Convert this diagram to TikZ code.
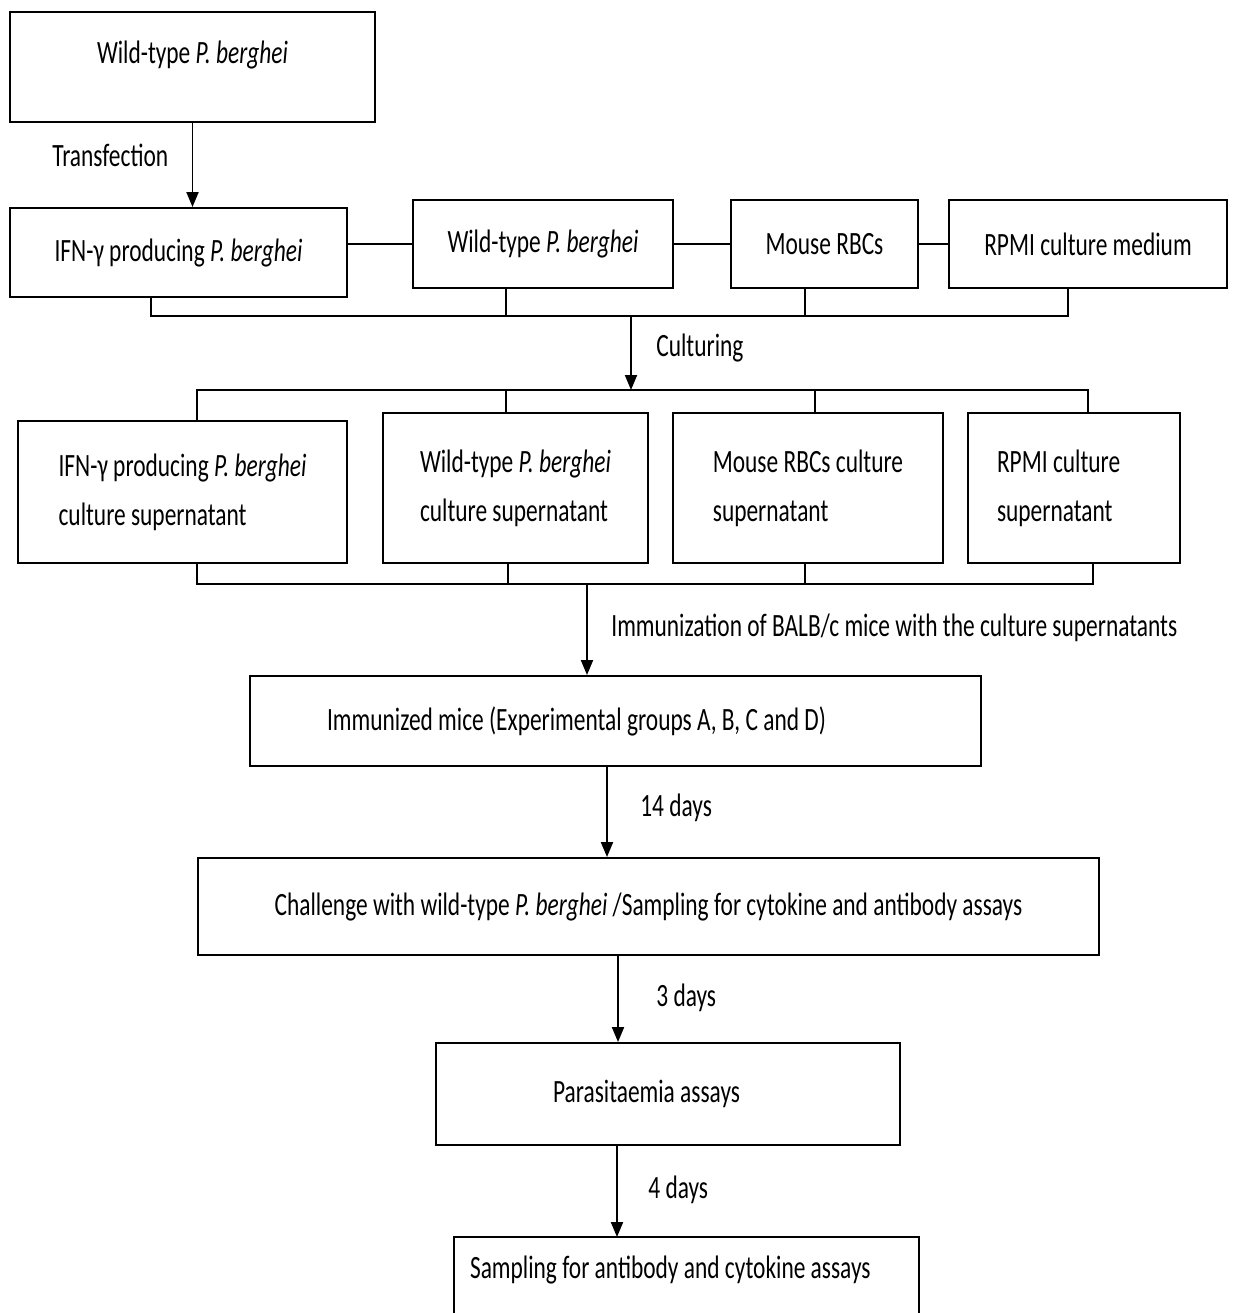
\documentclass[tikz,border=0pt]{standalone}
\usepackage{fontspec}
\setmainfont{Carlito}[FakeStretch=0.72]
\usetikzlibrary{arrows.meta,positioning}

\begin{document}
\begin{tikzpicture}[x=0.02cm,y=-0.02cm,
    box/.style={draw, line width=1.1pt, inner sep=0pt, align=center,
      font=\fontsize{18.5}{27.9}\selectfont},
    lbl/.style={font=\fontsize{18.5}{27.9}\selectfont, inner sep=0pt, anchor=west},
    arr/.style={line width=1.1pt, -{Triangle[length=0.3cm,width=0.24cm]}},
    bus/.style={line width=1.1pt}]
  \useasboundingbox (0,0) rectangle (1236,1313);
  \clip (0,0) rectangle (1236,1313);
  % Ceppo di partenza e trasfezione
  \node[box, minimum width=7.3cm, minimum height=2.2cm, text depth=0.6cm] (wt0) at (192.5,67) {Wild-type \textit{P. berghei}};
  \node[box, minimum width=6.74cm, minimum height=1.78cm] (ifn) at (178.5,252.5) {IFN-γ producing \textit{P. berghei}};
  \draw[arr] (wt0.south) -- (wt0.south |- ifn.north);
  \node[lbl] (transf) at (52,155) {Transfection};
  % Prima fila
  \node[box, minimum width=5.2cm, minimum height=1.76cm] (wt1) at (543,244) {Wild-type \textit{P. berghei}};
  \node[box, minimum width=3.74cm, minimum height=1.76cm] (rbc) at (824.5,244) {Mouse RBCs};
  \node[box, minimum width=5.56cm, minimum height=1.76cm] (rpmi) at (1088,244) {RPMI culture medium};
  \draw[bus] (ifn.east |- wt1.west) -- (wt1.west);
  \draw[bus] (wt1.east) -- (rbc.west);
  \draw[bus] (rbc.east) -- (rpmi.west);
  % Collettore e coltura
  \coordinate (b1) at (631,316);
  \coordinate (b2) at (631,390);
  \coordinate (d1) at ([xshift=-0.55cm]ifn.south);
  \coordinate (d2) at ([xshift=-0.74cm]wt1.south);
  \coordinate (d3) at ([xshift=-0.39cm]rbc.south);
  \coordinate (d4) at ([xshift=-0.4cm]rpmi.south);
  \draw[bus] (d1) |- (b1) -| (d4);
  \foreach \d in {d2,d3}
    \draw[bus] (\d) -- (\d |- b1);
  \draw[arr] (b1) -- (b2);
  \node[lbl] (cult) at (656,348) {Culturing};
  % Supernatanti
  \node[box, align=flush left, minimum width=6.58cm, minimum height=2.84cm] (sa) at (182.5,492)
    {IFN-γ producing \textit{P. berghei}\\culture supernatant};
  \node[box, align=flush left, minimum width=5.3cm, minimum height=3cm] (sb) at (515.5,488)
    {Wild-type \textit{P. berghei}\\culture supernatant};
  \node[box, align=flush left, minimum width=5.4cm, minimum height=3cm] (sc) at (808,488)
    {Mouse RBCs culture\\supernatant};
  \node[box, align=flush left, text width=3.08cm, inner xsep=0.58cm, minimum height=3cm] (sd) at (1074,488)
    {RPMI culture\\supernatant};
  \coordinate (u1) at ([xshift=0.29cm]sa.north);
  \coordinate (u2) at ([xshift=-0.19cm]sb.north);
  \coordinate (u3) at ([xshift=0.14cm]sc.north);
  \coordinate (u4) at ([xshift=0.28cm]sd.north);
  \draw[bus] (u1) |- (b2) -| (u4);
  \foreach \u in {u2,u3}
    \draw[bus] (\u) -- (\u |- b2);
  % Immunizzazione
  \coordinate (b3) at (587,584);
  \coordinate (v1) at ([xshift=0.29cm]sa.south);
  \coordinate (v2) at ([xshift=-0.15cm]sb.south);
  \coordinate (v3) at ([xshift=-0.06cm]sc.south);
  \coordinate (v4) at ([xshift=0.38cm]sd.south);
  \draw[bus] (v1) |- (b3) -| (v4);
  \foreach \v in {v2,v3}
    \draw[bus] (\v) -- (\v |- b3);
  \node[box, align=flush left, text width=11.54cm, inner xsep=1.54cm, minimum height=1.8cm] (imm) at (615.5,721)
    {Immunized mice (Experimental groups A, B, C and D)};
  \draw[arr] (b3) -- (b3 |- imm.north);
  \node[lbl] (immu) at (611,628) {Immunization of BALB/c mice with the culture supernatants};
  % Challenge
  \node[box, minimum width=18.02cm, minimum height=1.94cm] (chal) at (648.5,906.5)
    {Challenge with wild-type \textit{P. berghei} /Sampling for cytokine and antibody assays};
  \coordinate (a1) at ([xshift=-0.17cm]imm.south);
  \draw[arr] (a1) -- (a1 |- chal.north);
  \node[lbl] (t14) at (640,808) {14 days};
  % Parassitemia
  \node[box, align=flush left, text width=4.6cm, inner xsep=2.34cm, minimum height=2.04cm] (para) at (668,1094)
    {Parasitaemia assays};
  \coordinate (a2) at ([xshift=-0.61cm]chal.south);
  \draw[arr] (a2) -- (a2 |- para.north);
  \node[lbl] (t3) at (656,998) {3 days};
  % Campionamento finale (box aperto in basso)
  \node[box, draw=none, align=flush left, text width=8.66cm, inner xsep=0.3cm, minimum height=1.28cm] (samp) at (686.5,1270)
    {Sampling for antibody and cytokine assays};
  \coordinate (bot) at (0,1313);
  \draw[bus] (samp.south west |- bot) -- (samp.north west) -- (samp.north east) -- (samp.south east |- bot);
  \coordinate (a3) at ([xshift=-1.02cm]para.south);
  \draw[arr] (a3) -- (a3 |- samp.north);
  \node[lbl] (t4) at (648,1190) {4 days};
\end{tikzpicture}
\end{document}
